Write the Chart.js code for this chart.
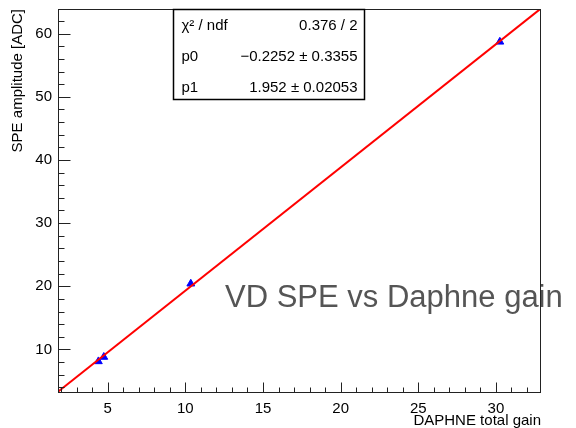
<!DOCTYPE html>
<html lang="en">
<head>
    <meta charset="UTF-8">
    <title>VD SPE vs Daphne gain</title>
    <style>
        body { margin: 0; background: #fff; }
        canvas { display: block; }
    </style>
</head>
<body>
    <canvas id="chart" width="576" height="428"></canvas>

    <script src="https://cdn.jsdelivr.net/npm/chart.js"></script>
    <script>
        // data
        const gain = [4.4, 4.75, 10.35, 30.25];
        const speAmp = [8.1, 8.8, 20.4, 58.7];

        // fit result (pol1)
        const p0 = -0.2252;
        const p1 = 1.952;
        const statRows = [
            ['\u03c7\u00b2 / ndf', '0.376 / 2'],
            ['p0', '\u22120.2252 \u00b1 0.3355'],
            ['p1', '1.952 \u00b1 0.02053']
        ];

        // axis ranges and ticks
        const xMin = 1.8, xMax = 32.9;
        const yMin = 3.1, yMax = 63.9;
        const xTicks = [5, 10, 15, 20, 25, 30];
        const yTicks = [10, 20, 30, 40, 50, 60];
        const xMinorStep = 1, yMinorStep = 2;

        const points = gain.map((g, i) => ({ x: g, y: speAmp[i] }));
        const fitLine = [xMin, xMax].map(x => ({ x: x, y: p0 + p1 * x }));

        const font = 'Liberation Sans, Arial, Helvetica, sans-serif';

        // ROOT-like frame, inner ticks, stats box and label
        const rootStyle = {
            id: 'rootStyle',
            afterDraw(chart) {
                const ctx = chart.ctx;
                const a = chart.chartArea;
                const xs = chart.scales.x, ys = chart.scales.y;
                ctx.save();

                // big label
                ctx.fillStyle = '#555';
                ctx.font = '31px ' + font;
                ctx.textAlign = 'left';
                ctx.textBaseline = 'alphabetic';
                ctx.fillText('VD SPE vs Daphne gain', 225, 307);

                // frame
                ctx.strokeStyle = '#222';
                ctx.lineWidth = 1;
                const L = Math.round(a.left) + 0.5, R = Math.round(a.right) - 0.5;
                const T = Math.round(a.top) + 0.5, B = Math.round(a.bottom) - 0.5;
                ctx.strokeRect(L, T, R - L, B - T);

                // ticks on the inside
                ctx.beginPath();
                for (let v = Math.ceil(xMin); v <= xMax; v += xMinorStep) {
                    const px = Math.round(xs.getPixelForValue(v)) + 0.5;
                    const len = xTicks.includes(v) ? 10 : 5;
                    ctx.moveTo(px, B);
                    ctx.lineTo(px, B - len);
                }
                for (let v = Math.ceil(yMin / yMinorStep) * yMinorStep; v <= yMax; v += yMinorStep) {
                    const py = Math.round(ys.getPixelForValue(v)) + 0.5;
                    const len = yTicks.includes(v) ? 12 : 6;
                    ctx.moveTo(L, py);
                    ctx.lineTo(L + len, py);
                }
                ctx.stroke();

                // stats box
                const bx = 173.5, by = T, bw = 191, bh = 90;
                ctx.fillStyle = '#fff';
                ctx.fillRect(bx, by, bw, bh);
                ctx.strokeStyle = '#000';
                ctx.lineWidth = 1.5;
                ctx.strokeRect(bx, by, bw, bh);
                ctx.fillStyle = '#000';
                ctx.font = '15px ' + font;
                ctx.textBaseline = 'middle';
                statRows.forEach((row, i) => {
                    const ty = by + 16 + i * 31;
                    ctx.textAlign = 'left';
                    ctx.fillText(row[0], bx + 8, ty);
                    ctx.textAlign = 'right';
                    ctx.fillText(row[1], bx + bw - 7, ty);
                });
                ctx.restore();
            }
        };

        new Chart(document.getElementById('chart'), {
            type: 'scatter',
            data: {
                datasets: [
                    {
                        label: 'fit',
                        data: fitLine,
                        showLine: true,
                        borderColor: '#ff0000',
                        borderWidth: 2,
                        pointRadius: 0,
                        order: 0
                    },
                    {
                        label: 'SPE amplitude',
                        data: points,
                        pointStyle: 'triangle',
                        pointRadius: 4.5,
                        backgroundColor: '#0000ff',
                        borderColor: '#0000ff',
                        borderWidth: 1,
                        order: 1
                    }
                ]
            },
            options: {
                responsive: false,
                animation: false,
                layout: { padding: { top: 9, right: 35, left: 0, bottom: 0 } },
                plugins: {
                    legend: { display: false },
                    tooltip: { enabled: false }
                },
                scales: {
                    x: {
                        type: 'linear',
                        min: xMin,
                        max: xMax,
                        grid: { display: false, drawTicks: false },
                        border: { display: false },
                        afterBuildTicks: s => { s.ticks = xTicks.map(v => ({ value: v })); },
                        afterFit: s => { s.height = 35; s.paddingLeft = 0; s.paddingRight = 0; },
                        ticks: {
                            color: '#000',
                            font: { family: font, size: 15 },
                            padding: 7,
                            maxRotation: 0
                        },
                        title: {
                            display: true,
                            text: 'DAPHNE total gain',
                            align: 'end',
                            color: '#000',
                            font: { family: font, size: 15, lineHeight: 1.0 },
                            padding: { top: 0, bottom: 0 }
                        }
                    },
                    y: {
                        type: 'linear',
                        min: yMin,
                        max: yMax,
                        grid: { display: false, drawTicks: false },
                        border: { display: false },
                        afterBuildTicks: s => { s.ticks = yTicks.map(v => ({ value: v })); },
                        afterFit: s => { s.width = 58; s.paddingTop = 0; s.paddingBottom = 0; },
                        ticks: {
                            color: '#000',
                            font: { family: font, size: 15 },
                            padding: 6
                        },
                        title: {
                            display: true,
                            text: 'SPE amplitude [ADC]',
                            align: 'end',
                            color: '#000',
                            font: { family: font, size: 15 },
                            padding: { top: 9, bottom: 0 }
                        }
                    }
                }
            },
            plugins: [rootStyle]
        });
    </script>
</body>
</html>
